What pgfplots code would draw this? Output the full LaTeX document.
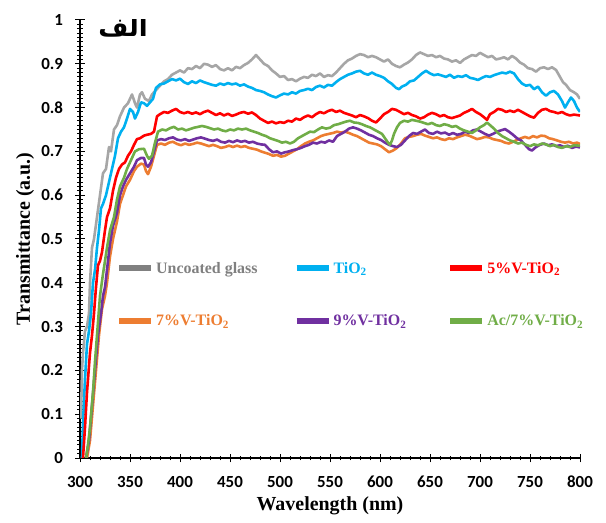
\documentclass[border=0pt]{standalone}
\usepackage{pgfplots}
\pgfplotsset{compat=1.18}
\usepackage{fontspec}
\setmainfont{Liberation Serif}
\newfontfamily\tickfont{Carlito}
\newfontfamily\arabicfont[Script=Arabic]{DejaVu Sans}
\TeXXeTstate=1

\definecolor{cGlass}{HTML}{A6A6A6}
\definecolor{cGlassLeg}{HTML}{808080}
\definecolor{cTiO}{HTML}{00B0F0}
\definecolor{cFive}{HTML}{FF0000}
\definecolor{cSeven}{HTML}{ED7D31}
\definecolor{cNine}{HTML}{7030A0}
\definecolor{cAc}{HTML}{70AD47}

\begin{document}
\begin{tikzpicture}
\path[use as bounding box] (0bp,0bp) rectangle (606bp,523bp);
\begin{axis}[
    at={(80bp,65bp)}, anchor=south west,
    scale only axis, width=500bp, height=438bp,
    xmin=300, xmax=800, ymin=0, ymax=1,
    axis lines=left,
    axis line style={-, line width=1.3bp},
    xtick={300,350,400,450,500,550,600,650,700,750,800},
    ytick={0,0.1,0.2,0.3,0.4,0.5,0.6,0.7,0.8,0.9,1},
    minor x tick num=4, minor y tick num=9,
    tick align=center,
    major tick length=9bp, minor tick length=5bp,
    tick style={black, line width=1bp},
    /pgf/number format/assume math mode=true,
    ticklabel style={font=\tickfont\bfseries\fontsize{17}{20}\selectfont},
    xticklabel style={yshift=-10bp},
    yticklabel style={xshift=-9bp},
    xlabel={Wavelength (nm)},
    ylabel={Transmittance (a.u.)},
    label style={font=\bfseries\fontsize{20}{24}\selectfont},
    xlabel style={at={(axis description cs:0.5,-0.108)}, anchor=center},
    ylabel style={at={(axis description cs:-0.11,0.5)}, anchor=center},
    legend columns=3,
    legend cell align=left,
    legend style={draw=none, fill=none, at={(0.066,0.457)}, anchor=north west,
        font=\bfseries\fontsize{16}{19}\selectfont,
        /tikz/column 2/.style={column sep=34bp},
        /tikz/column 4/.style={column sep=39bp},
        /tikz/row sep=36bp},
    legend image code/.code={\draw[#1, line width=6bp] (0bp,0bp) -- (32bp,0bp);},
    every axis plot/.append style={line width=2.6bp, line join=round},
]
% Uncoated glass
\addplot[cGlass, forget plot] coordinates {
(301,0.09) (302,0.20) (303,0.24) (305,0.29) (307,0.30) (309,0.33) (310,0.40) (312,0.48)
(314,0.50) (317,0.55) (320,0.60) (323,0.65) (326,0.66) (329,0.71) (331,0.70) (334,0.75)
(337,0.76) (340,0.78) (344,0.80) (348,0.81) (352,0.83) (355,0.81) (357,0.80) (360,0.83)
(362,0.835) (365,0.82) (369,0.815) (372,0.83) (376,0.84) (380,0.85) (384,0.86) (388,0.865)
(392,0.875) (396,0.88) (400,0.885) (404,0.88) (408,0.89) (412,0.888) (416,0.895) (420,0.89)
(424,0.90) (428,0.898) (432,0.893) (436,0.897) (440,0.888) (444,0.885) (448,0.89) (452,0.885)
(456,0.893) (460,0.89) (464,0.897) (468,0.902) (472,0.91) (476,0.92) (480,0.91) (484,0.90)
(488,0.895) (492,0.885) (496,0.878) (500,0.87) (504,0.872) (508,0.863) (512,0.865) (516,0.86)
(520,0.866) (524,0.87) (528,0.868) (532,0.875) (536,0.872) (540,0.878) (544,0.87) (548,0.874)
(552,0.872) (556,0.88) (560,0.89) (564,0.90) (568,0.908) (572,0.912) (576,0.918) (580,0.922)
(584,0.92) (588,0.915) (592,0.918) (596,0.915) (600,0.91) (604,0.905) (608,0.91) (612,0.90)
(616,0.895) (620,0.892) (624,0.898) (628,0.903) (632,0.91) (636,0.92) (640,0.926) (644,0.922)
(648,0.918) (652,0.92) (656,0.915) (660,0.918) (664,0.912) (668,0.91) (672,0.905) (676,0.908)
(680,0.902) (684,0.91) (688,0.915) (692,0.92) (696,0.918) (700,0.925) (704,0.92) (708,0.915)
(712,0.918) (716,0.91) (720,0.912) (724,0.915) (728,0.91) (732,0.918) (736,0.912) (740,0.903)
(744,0.898) (748,0.89) (752,0.888) (756,0.882) (760,0.89) (764,0.892) (768,0.888) (772,0.892)
(776,0.886) (780,0.87) (783,0.858) (786,0.852) (790,0.84) (794,0.835) (797,0.83) (800,0.82)
};
% TiO2
\addplot[cTiO, forget plot] coordinates {
(302,0.0) (303,0.08) (305,0.18) (307,0.26) (309,0.29) (311,0.33) (313,0.40) (315,0.43)
(317,0.48) (319,0.52) (321,0.57) (323,0.58) (326,0.60) (329,0.63) (332,0.66) (335,0.69)
(338,0.73) (341,0.745) (344,0.755) (347,0.775) (350,0.797) (353,0.79) (355,0.775) (358,0.79)
(361,0.812) (364,0.81) (367,0.804) (370,0.812) (373,0.82) (376,0.845) (380,0.853) (384,0.855)
(388,0.86) (392,0.865) (396,0.862) (400,0.866) (404,0.858) (408,0.854) (412,0.86) (416,0.856)
(420,0.862) (424,0.858) (428,0.855) (432,0.852) (436,0.85) (440,0.855) (444,0.852) (448,0.856)
(452,0.853) (456,0.855) (460,0.85) (464,0.853) (468,0.848) (472,0.845) (476,0.84) (480,0.838)
(484,0.835) (488,0.83) (492,0.826) (496,0.823) (500,0.828) (504,0.832) (508,0.83) (512,0.835)
(516,0.832) (520,0.838) (524,0.84) (528,0.843) (532,0.84) (536,0.847) (540,0.85) (544,0.846)
(548,0.852) (552,0.85) (556,0.858) (560,0.865) (564,0.87) (568,0.875) (572,0.878) (576,0.882)
(580,0.884) (584,0.878) (588,0.875) (592,0.88) (596,0.875) (600,0.872) (604,0.868) (608,0.86)
(612,0.854) (616,0.845) (619,0.842) (622,0.848) (626,0.852) (630,0.86) (634,0.862) (638,0.87)
(642,0.878) (646,0.884) (650,0.878) (654,0.874) (658,0.876) (662,0.873) (666,0.87) (670,0.875)
(674,0.868) (678,0.872) (682,0.87) (686,0.874) (690,0.868) (694,0.866) (698,0.863) (702,0.868)
(706,0.872) (710,0.87) (714,0.874) (718,0.877) (722,0.88) (726,0.878) (730,0.882) (734,0.878)
(738,0.865) (742,0.855) (746,0.85) (750,0.852) (754,0.842) (758,0.848) (762,0.835) (766,0.827)
(770,0.835) (774,0.838) (778,0.83) (782,0.815) (785,0.80) (788,0.812) (791,0.823) (794,0.815)
(797,0.80) (800,0.79)
};
% 5%V-TiO2
\addplot[cFive, forget plot] coordinates {
(303,0.0) (305,0.07) (307,0.15) (310,0.24) (312,0.28) (314,0.33) (316,0.39) (318,0.44)
(320,0.45) (322,0.47) (325,0.52) (327,0.55) (330,0.57) (333,0.61) (336,0.64) (339,0.66)
(342,0.67) (345,0.675) (348,0.69) (351,0.70) (354,0.715) (357,0.728) (360,0.73) (364,0.736)
(367,0.738) (371,0.74) (374,0.745) (377,0.78) (380,0.785) (384,0.79) (388,0.788) (392,0.793)
(396,0.797) (400,0.79) (404,0.787) (408,0.79) (412,0.786) (416,0.789) (420,0.785) (424,0.79)
(428,0.793) (432,0.788) (436,0.783) (440,0.787) (444,0.782) (448,0.786) (452,0.781) (456,0.784)
(460,0.788) (464,0.79) (468,0.786) (472,0.789) (476,0.783) (480,0.775) (484,0.77) (488,0.765)
(492,0.768) (496,0.764) (500,0.767) (504,0.765) (508,0.77) (512,0.768) (516,0.775) (520,0.772)
(524,0.778) (528,0.782) (532,0.778) (536,0.785) (540,0.79) (544,0.787) (548,0.792) (552,0.795)
(556,0.79) (560,0.793) (564,0.788) (568,0.785) (572,0.782) (576,0.778) (580,0.783) (584,0.78)
(588,0.776) (592,0.77) (596,0.766) (600,0.775) (604,0.785) (608,0.79) (612,0.797) (616,0.795)
(620,0.79) (624,0.785) (628,0.788) (632,0.783) (636,0.78) (640,0.775) (644,0.778) (648,0.784)
(652,0.788) (656,0.785) (660,0.78) (664,0.783) (668,0.778) (672,0.776) (676,0.779) (680,0.782)
(684,0.788) (688,0.792) (692,0.797) (696,0.79) (700,0.785) (704,0.778) (707,0.772) (710,0.785)
(714,0.79) (718,0.797) (722,0.795) (726,0.79) (730,0.793) (734,0.79) (738,0.795) (742,0.79)
(746,0.785) (750,0.78) (754,0.777) (758,0.788) (762,0.795) (766,0.797) (770,0.792) (774,0.79)
(778,0.787) (782,0.79) (786,0.785) (790,0.782) (794,0.784) (800,0.782)
};
% 7%V-TiO2
\addplot[cSeven, forget plot] coordinates {
(307,0.0) (310,0.04) (313,0.12) (316,0.2) (319,0.28) (322,0.34) (325,0.37) (327,0.40)
(330,0.46) (333,0.50) (337,0.54) (340,0.58) (343,0.60) (346,0.62) (350,0.635) (354,0.655)
(357,0.665) (361,0.672) (364,0.67) (366,0.655) (368,0.648) (371,0.665) (374,0.69) (377,0.715)
(381,0.718) (385,0.715) (389,0.72) (393,0.722) (397,0.717) (401,0.714) (405,0.718) (409,0.715)
(413,0.717) (417,0.72) (421,0.718) (425,0.715) (429,0.712) (433,0.715) (437,0.712) (441,0.708)
(445,0.71) (449,0.713) (453,0.71) (457,0.713) (461,0.71) (465,0.712) (469,0.708) (473,0.706)
(477,0.704) (481,0.70) (485,0.697) (489,0.694) (493,0.69) (497,0.692) (501,0.688) (505,0.69)
(509,0.695) (513,0.70) (517,0.705) (521,0.712) (525,0.718) (529,0.722) (533,0.725) (537,0.73)
(541,0.735) (545,0.738) (549,0.74) (553,0.742) (557,0.745) (561,0.743) (565,0.745) (569,0.742)
(573,0.738) (577,0.735) (581,0.73) (585,0.725) (589,0.72) (593,0.718) (597,0.716) (601,0.712)
(605,0.705) (609,0.698) (613,0.702) (617,0.708) (621,0.718) (625,0.73) (629,0.733) (633,0.735)
(637,0.738) (641,0.74) (645,0.736) (649,0.733) (653,0.73) (657,0.732) (661,0.728) (665,0.726)
(669,0.73) (673,0.728) (677,0.732) (681,0.735) (685,0.738) (689,0.736) (693,0.732) (697,0.728)
(701,0.73) (705,0.733) (709,0.732) (713,0.728) (717,0.726) (721,0.724) (725,0.72) (729,0.718)
(733,0.722) (737,0.726) (741,0.73) (745,0.733) (749,0.73) (753,0.735) (757,0.732) (761,0.736)
(765,0.735) (769,0.73) (773,0.728) (777,0.725) (781,0.722) (785,0.72) (789,0.722) (793,0.718)
(797,0.72) (800,0.717)
};
% 9%V-TiO2
\addplot[cNine, forget plot] coordinates {
(306,0.0) (309,0.04) (312,0.12) (315,0.2) (318,0.28) (321,0.33) (323,0.37) (325,0.39)
(327,0.43) (330,0.49) (333,0.53) (337,0.56) (340,0.60) (343,0.62) (346,0.635) (350,0.65)
(354,0.665) (357,0.68) (361,0.685) (364,0.685) (366,0.67) (368,0.665) (371,0.675) (374,0.70)
(377,0.725) (381,0.728) (385,0.726) (389,0.73) (393,0.732) (397,0.727) (401,0.725) (405,0.728)
(409,0.724) (413,0.727) (417,0.73) (421,0.732) (425,0.729) (429,0.726) (433,0.724) (437,0.727)
(441,0.722) (445,0.72) (449,0.724) (453,0.721) (457,0.725) (461,0.722) (465,0.724) (469,0.72)
(473,0.722) (477,0.718) (481,0.716) (485,0.715) (489,0.705) (493,0.698) (497,0.70) (501,0.695)
(505,0.698) (509,0.70) (513,0.703) (517,0.705) (521,0.708) (525,0.712) (529,0.715) (533,0.72)
(537,0.718) (541,0.722) (545,0.72) (549,0.725) (553,0.722) (557,0.735) (561,0.74) (565,0.745)
(569,0.752) (573,0.755) (577,0.752) (581,0.748) (585,0.743) (589,0.738) (593,0.735) (597,0.73)
(601,0.726) (605,0.72) (609,0.715) (613,0.712) (617,0.71) (621,0.715) (625,0.725) (629,0.735)
(633,0.742) (637,0.74) (641,0.745) (645,0.75) (649,0.742) (653,0.74) (657,0.745) (661,0.741)
(665,0.743) (669,0.738) (673,0.742) (677,0.738) (681,0.74) (685,0.745) (689,0.742) (693,0.748)
(697,0.75) (701,0.745) (705,0.74) (709,0.736) (713,0.74) (717,0.745) (721,0.748) (725,0.751)
(729,0.745) (733,0.738) (737,0.73) (741,0.725) (745,0.715) (749,0.705) (752,0.702) (756,0.71)
(760,0.715) (764,0.718) (768,0.714) (772,0.716) (776,0.712) (780,0.714) (784,0.71) (788,0.713)
(792,0.708) (796,0.711) (800,0.709)
};
% Ac/7%V-TiO2
\addplot[cAc, forget plot] coordinates {
(306,0.0) (308,0.03) (310,0.07) (313,0.15) (315,0.22) (318,0.31) (320,0.37) (323,0.42)
(327,0.48) (330,0.52) (334,0.55) (337,0.59) (340,0.62) (344,0.64) (347,0.66) (351,0.68)
(355,0.70) (359,0.705) (364,0.706) (367,0.69) (369,0.683) (372,0.69) (375,0.72) (378,0.745)
(382,0.75) (386,0.748) (390,0.753) (394,0.756) (398,0.75) (402,0.752) (406,0.748) (410,0.751)
(414,0.754) (418,0.756) (422,0.758) (426,0.756) (430,0.753) (434,0.75) (438,0.752) (442,0.748)
(446,0.746) (450,0.75) (454,0.748) (458,0.752) (462,0.75) (466,0.752) (470,0.748) (474,0.745)
(478,0.742) (482,0.738) (486,0.735) (490,0.73) (494,0.727) (498,0.724) (502,0.72) (506,0.722)
(510,0.718) (514,0.722) (518,0.73) (522,0.735) (526,0.74) (530,0.745) (534,0.744) (538,0.75)
(542,0.755) (546,0.752) (550,0.754) (554,0.76) (558,0.762) (562,0.765) (566,0.768) (570,0.77)
(574,0.766) (578,0.765) (582,0.762) (586,0.758) (590,0.755) (594,0.75) (598,0.745) (602,0.74)
(605,0.73) (608,0.72) (610,0.715) (612,0.725) (614,0.74) (617,0.755) (620,0.765) (624,0.77)
(628,0.768) (632,0.772) (636,0.77) (640,0.768) (644,0.765) (648,0.762) (652,0.765) (656,0.76)
(660,0.758) (664,0.762) (668,0.76) (672,0.756) (676,0.758) (680,0.752) (684,0.748) (688,0.745)
(692,0.742) (696,0.748) (700,0.755) (704,0.76) (707,0.766) (710,0.76) (714,0.752) (718,0.742)
(722,0.735) (726,0.73) (730,0.725) (734,0.722) (738,0.718) (742,0.72) (746,0.715) (750,0.712)
(754,0.716) (758,0.714) (762,0.718) (766,0.716) (770,0.712) (774,0.715) (778,0.71) (782,0.708)
(786,0.712) (790,0.71) (794,0.714) (800,0.713)
};
\addlegendimage{cGlassLeg}
\addlegendentry{\textcolor{cGlassLeg}{Uncoated glass}}
\addlegendimage{cTiO}
\addlegendentry{\textcolor{cTiO}{TiO\textsubscript{2}}}
\addlegendimage{cFive}
\addlegendentry{\textcolor{cFive}{5\%V-TiO\textsubscript{2}}}
\addlegendimage{cSeven}
\addlegendentry{\textcolor{cSeven}{7\%V-TiO\textsubscript{2}}}
\addlegendimage{cNine}
\addlegendentry{\textcolor{cNine}{9\%V-TiO\textsubscript{2}}}
\addlegendimage{cAc}
\addlegendentry{\textcolor{cAc}{Ac/7\%V-TiO\textsubscript{2}}}
\node[font=\arabicfont\bfseries\fontsize{26}{30}\selectfont] at (rel axis cs:0.086,0.985) {\beginR الف\endR};
\end{axis}
\end{tikzpicture}
\end{document}
